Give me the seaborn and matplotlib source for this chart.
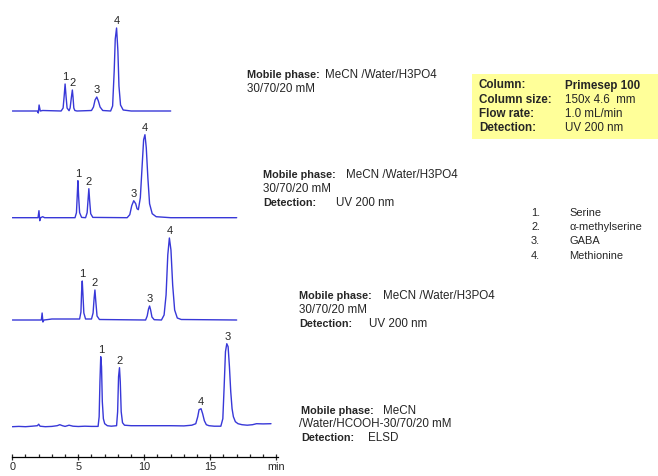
import numpy as np
import pandas as pd
import seaborn as sns
import matplotlib.pyplot as plt

# chromatogram traces (time in min, signal above baseline)
t1 = [0, 1.9, 1.97, 2.03, 2.12, 2.3, 3.7, 3.85, 3.93, 4.0, 4.07, 4.15, 4.3, 4.38, 4.48, 4.55, 4.6, 4.66,
      4.74, 4.9, 6.0, 6.15, 6.27, 6.4, 6.52, 6.65, 6.85, 7.45, 7.6, 7.72, 7.8, 7.9, 8.0, 8.08, 8.2, 8.4,
      9.0, 12.0]
y1 = [0, 0, -2, 6, 0, 0.5, 0, 3, 15, 27, 15, 3, 0.3, 3, 14, 21, 14, 3,
      0.5, 0, 0.5, 4, 11, 14, 10, 4, 0.5, 0, 5, 40, 72, 83, 60, 25, 6, 1,
      0, 0]

t2 = [0, 1.95, 2.02, 2.08, 2.15, 2.3, 2.45, 4.75, 4.86, 4.92, 4.97, 5.03, 5.1, 5.25, 5.55, 5.67, 5.74,
      5.8, 5.86, 5.94, 6.1, 8.7, 8.9, 9.05, 9.2, 9.35, 9.45, 9.55, 9.7, 9.85, 9.95, 10.05, 10.15, 10.27,
      10.4, 10.6, 10.9, 12, 17]
y2 = [0, 0, 7, -3, 0, 1, 0, 0, 5, 22, 37, 20, 5, 0.3, 0, 5, 18,
      29, 17, 4, 0.3, 0, 3, 12, 17, 14, 9, 8, 20, 55, 78, 83, 70, 40,
      14, 4, 1, 0, 0]

t3 = [0, 2.2, 2.26, 2.32, 2.4, 2.6, 3.0, 5.1, 5.2, 5.25, 5.3, 5.35, 5.42, 5.55, 6.0, 6.12, 6.2, 6.26,
      6.33, 6.42, 6.6, 10.1, 10.22, 10.32, 10.4, 10.48, 10.58, 10.75, 11.3, 11.5, 11.65, 11.78, 11.9,
      12.02, 12.15, 12.3, 12.5, 12.8, 17]
y3 = [0, 0, 7, -2, 0, 0.3, 1, 1, 8, 28, 39, 26, 7, 1, 1, 7, 22, 30,
      18, 4, 0.5, 0, 4, 11, 14, 10, 3, 0.3, 0, 5, 25, 65, 82,
      70, 35, 10, 2, 0.5, 0]

t4 = [0, 0.5, 1.0, 1.5, 1.9, 2.0, 2.1, 2.5, 3.0, 3.4, 3.6, 3.8, 4.0, 4.3, 4.6, 5.0, 5.5, 6.0, 6.5,
      6.58, 6.64, 6.7, 6.76, 6.82, 6.9, 7.0, 7.2, 7.5, 7.9, 7.98, 8.05, 8.12, 8.18, 8.25, 8.35, 8.5,
      9.0, 10, 11, 12, 13, 13.6, 13.9, 14.05, 14.15, 14.3, 14.42, 14.55, 14.7, 14.9, 15.3, 15.8,
      15.95, 16.05, 16.15, 16.25, 16.35, 16.45, 16.55, 16.65, 16.75, 16.9, 17.1, 17.4, 17.8, 18.2,
      18.5, 19.0, 19.6]
y4 = [0, 0.3, 0, 0.5, 1, 2.5, 0.5, 0, 0.3, 1, 2, 1, 0.3, 1.5, 0.5, 0.2, 0.5, 0.3, 0.3,
      10, 45, 70, 60, 25, 8, 3, 1, 0.5, 1, 15, 50, 59, 45, 15, 4, 1.5,
      1, 1, 1, 1, 0.8, 1.5, 3, 10, 17, 18, 13, 6, 2, 1, 0.5, 0.5,
      8, 40, 75, 83, 80, 60, 35, 18, 10, 5, 3, 2, 1.5, 2,
      3, 2.8, 3]

# peak labels: retention time, apex height, label
pk1_t = [4.0, 4.55, 6.4, 7.9]
pk1_h = [27, 21, 14, 83]
pk2_t = [4.97, 5.8, 9.2, 10.05]
pk2_h = [37, 29, 17, 83]
pk3_t = [5.3, 6.26, 10.4, 11.9]
pk3_h = [39, 30, 14, 82]
pk4_t = [6.7, 8.12, 14.3, 16.3]
pk4_h = [70, 59, 18, 83]
pk_lab = ['1', '2', '3', '4']
pk4_lab = ['1', '2', '4', '3']

traces = [(t1, y1, pk1_t, pk1_h, pk_lab), (t2, y2, pk2_t, pk2_h, pk_lab),
          (t3, y3, pk3_t, pk3_h, pk_lab), (t4, y4, pk4_t, pk4_h, pk4_lab)]

sns.set_style('white')
plt.rcParams['font.family'] = ['Liberation Sans', 'DejaVu Sans']

W, H = 658, 476
fig = plt.figure(figsize=(W / 100, H / 100), dpi=100)
blue = '#3838d8'

baselines = [111, 217.7, 320, 426.7]  # px from top
x0, x1 = 12.3, 278.0
for i, (t, y, pt, ph, pl) in enumerate(traces):
    bottom = baselines[i] + 30
    ax = fig.add_axes([x0 / W, 1 - bottom / H, (x1 - x0) / W, 125 / H])
    ax.patch.set_alpha(0)
    df = pd.DataFrame({'time': t, 'signal': y})
    sns.lineplot(data=df, x='time', y='signal', ax=ax, color=blue, lw=1.0, sort=False, estimator=None)
    for tt, hh, lab in zip(pt, ph, pl):
        ax.annotate(lab, (tt, hh), xytext=(0, 1.5), textcoords='offset points',
                    ha='center', va='bottom', fontsize=8)
    ax.set_xlim(0, 20.13)
    ax.set_ylim(-30, 95)
    ax.set_xlabel('')
    ax.set_ylabel('')
    ax.set_yticks([])
    for s in ['left', 'right', 'top']:
        ax.spines[s].set_visible(False)
    if i < 3:
        ax.spines['bottom'].set_visible(False)
        ax.set_xticks([])
    else:
        ax.spines['bottom'].set_color('black')
        ax.spines['bottom'].set_linewidth(0.9)
        ax.set_xticks([0, 5, 10, 15, 20])
        ax.set_xticklabels(['0', '5', '10', '15', 'min'])
        ax.set_xticks(np.arange(0, 21, 1), minor=True)
        ax.tick_params(axis='x', which='major', direction='inout', length=5, width=0.9,
                       labelsize=7.8, pad=1, bottom=True)
        ax.tick_params(axis='x', which='minor', direction='in', length=2.5, width=0.9, bottom=True)


def txt(x, y, s, bold=False, size=7.7):
    fig.text(x / W, 1 - y / H, s, ha='left', va='center', fontsize=size,
             fontweight='bold' if bold else 'normal')


# text blocks next to each trace
mp_b, mp_r = 7.8, 8.4
txt(247, 75, 'Mobile phase:', True, mp_b)
txt(325, 75, 'MeCN /Water/H3PO4', size=mp_r)
txt(247, 89, '30/70/20 mM', size=mp_r)

txt(263, 175, 'Mobile phase:', True, mp_b)
txt(346, 175, 'MeCN /Water/H3PO4', size=mp_r)
txt(263, 189, '30/70/20 mM', size=mp_r)
txt(263, 203, 'Detection:', True, mp_b)
txt(336, 203, 'UV 200 nm', size=mp_r)

txt(299, 296, 'Mobile phase:', True, mp_b)
txt(383, 296, 'MeCN /Water/H3PO4', size=mp_r)
txt(299, 310, '30/70/20 mM', size=mp_r)
txt(299, 324, 'Detection:', True, mp_b)
txt(369, 324, 'UV 200 nm', size=mp_r)

txt(301, 411, 'Mobile phase:', True, mp_b)
txt(383, 411, 'MeCN', size=mp_r)
txt(299, 424, '/Water/HCOOH-30/70/20 mM', size=mp_r)
txt(301, 438, 'Detection:', True, mp_b)
txt(368, 438, 'ELSD', size=mp_r)

# conditions box
fig.patches.append(plt.Rectangle((472 / W, 1 - 139 / H), (658 - 472) / W, 65 / H,
                                 transform=fig.transFigure, facecolor='#ffff99',
                                 edgecolor='none', zorder=0))
box_lab = ['Column:', 'Column size:', 'Flow rate:', 'Detection:']
box_val = ['Primesep 100', '150x 4.6  mm', '1.0 mL/min', 'UV 200 nm']
for k, (a, b) in enumerate(zip(box_lab, box_val)):
    yy = 85.5 + k * 14.3
    txt(479, yy, a, True, 8.4)
    txt(565, yy, b, k == 0, 8.4)

# compound list
cmp_num = ['1.', '2.', '3.', '4.']
cmp_name = ['Serine', 'α-methylserine', 'GABA', 'Methionine']
for k, (a, b) in enumerate(zip(cmp_num, cmp_name)):
    yy = 212.7 + k * 14.4
    txt(531, yy, a, size=7.9)
    txt(569, yy, b, size=7.9)

fig.savefig('out.png', dpi=100)
